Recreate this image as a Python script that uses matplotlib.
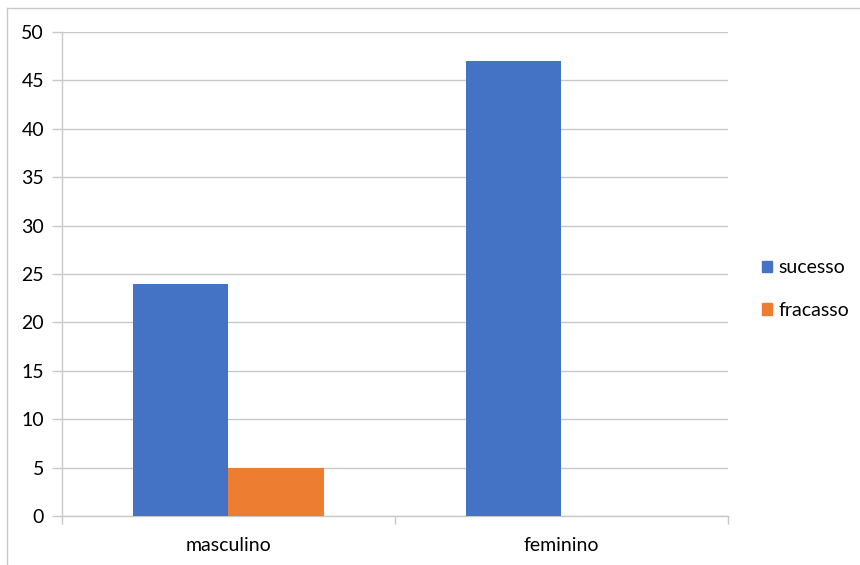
import matplotlib
matplotlib.use("Agg")
import matplotlib.pyplot as plt
import numpy as np
from matplotlib.lines import Line2D

categories = ["masculino", "feminino"]
sucesso = [24, 47]
fracasso = [5, 0]
series_names = ["sucesso", "fracasso"]
yticks = [0, 5, 10, 15, 20, 25, 30, 35, 40, 45, 50]

plt.rcParams['font.family'] = ['Lato', 'DejaVu Sans']

W, H = 860, 565
fig = plt.figure(figsize=(W/100, H/100), dpi=100)
ax = fig.add_axes([62/W, 1-516/H, (728-62)/W, (516-32)/H])

blue = "#4472C4"
orange = "#ED7D31"
grid = "#C8C8C8"
fs = 14

x = np.arange(len(categories))
bw = 1/3.5
ax.bar(x - bw/2, sucesso, width=bw, color=blue, zorder=3, label=series_names[0])
ax.bar(x + bw/2, fracasso, width=bw, color=orange, zorder=3, label=series_names[1])

ax.set_xlim(-0.5, len(categories)-0.5)
ax.set_ylim(0, 50)
ax.set_yticks(yticks)
ax.set_yticklabels([str(v) for v in yticks], fontsize=fs, color="#000000")
ax.yaxis.grid(True, color=grid, linewidth=1.0, zorder=0)
ax.set_axisbelow(True)

ax.set_xticks(x)
ax.set_xticklabels(categories, fontsize=fs, color="#000000")
ax.tick_params(axis='x', length=0, pad=15)
ax.set_xticks([-0.5, 0.5, 1.5], minor=True)
ax.tick_params(axis='x', which='minor', length=6, color=grid, width=1.0)
ax.tick_params(axis='y', length=7, color=grid, width=1.0, pad=6)

for s in ["top", "right"]:
    ax.spines[s].set_visible(False)
ax.spines["left"].set_color(grid)
ax.spines["bottom"].set_color(grid)
ax.spines["left"].set_linewidth(1.0)
ax.spines["bottom"].set_linewidth(1.0)

handles = [plt.Rectangle((0, 0), 1, 1, color=blue), plt.Rectangle((0, 0), 1, 1, color=orange)]
fig.legend(handles, series_names, loc="center left", bbox_to_anchor=(754/W, 1-289/H),
           frameon=False, fontsize=fs, handlelength=0.55, handleheight=0.55,
           handletextpad=0.3, labelspacing=1.3, borderaxespad=0)

# outer chart border (top and left visible)
fig.add_artist(Line2D([6.5/W, 1], [1-7.5/H, 1-7.5/H], color="#C8C8C8", linewidth=1.0, transform=fig.transFigure))
fig.add_artist(Line2D([6.5/W, 6.5/W], [0, 1-7.5/H], color="#C8C8C8", linewidth=1.0, transform=fig.transFigure))

fig.savefig("out.png", dpi=100, facecolor="white")
